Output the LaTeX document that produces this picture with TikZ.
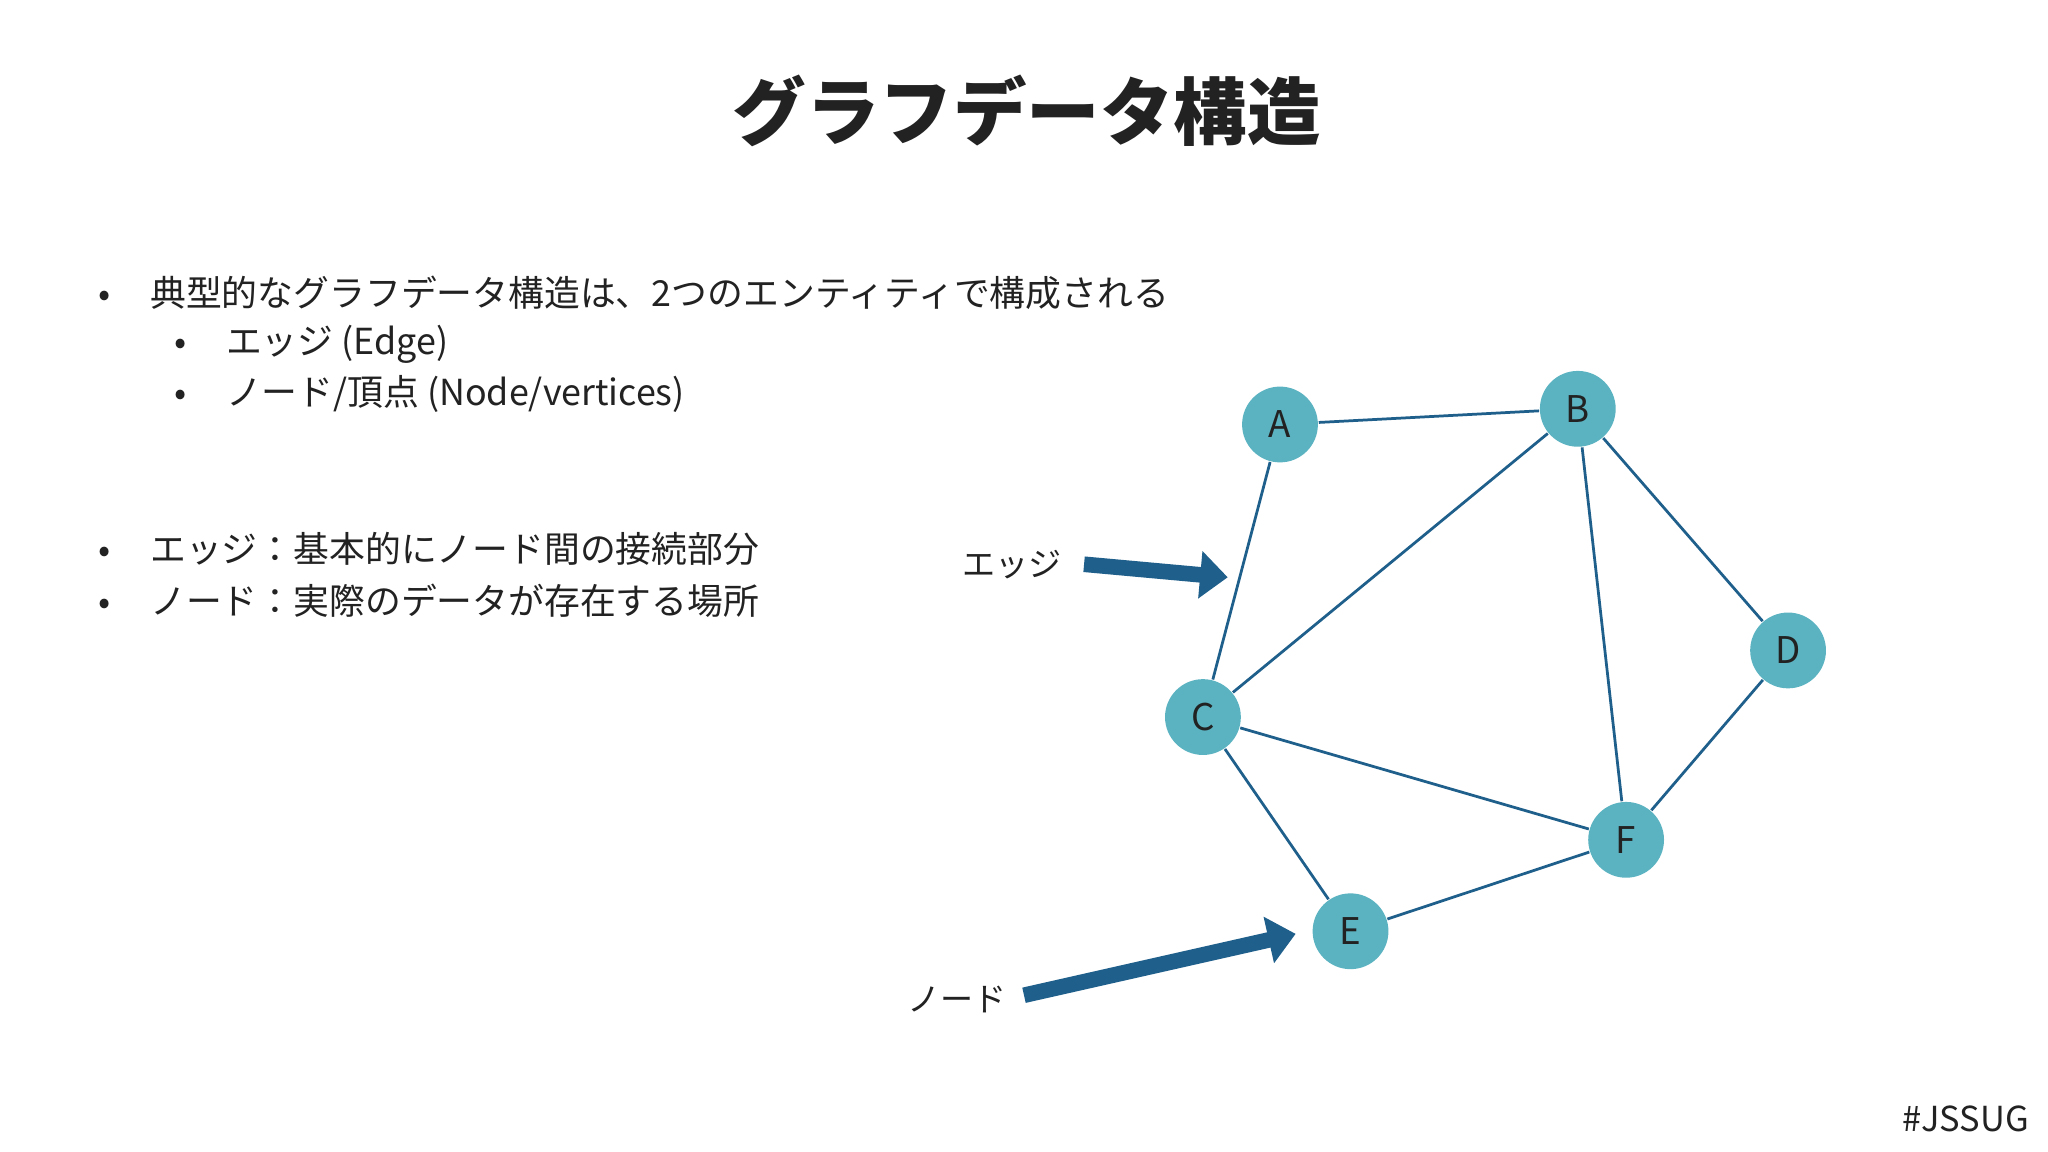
\documentclass[tikz,border=0pt]{standalone}
\usepackage{fontspec}
\setmainfont{Noto Sans CJK JP}
\usetikzlibrary{arrows.meta}
\definecolor{nodec}{HTML}{5BB3C1}
\definecolor{edgec}{HTML}{1F5F8B}
\definecolor{txt}{HTML}{222222}
\begin{document}
\begin{tikzpicture}[x=0.01cm,y=-0.01cm,
  vert/.style={circle,fill=nodec,minimum size=5.8mm,inner sep=0pt,font=\fontsize{8}{9}\selectfont,text=txt},
  edge/.style={draw=edgec,line width=0.6pt},
  bigarrow/.style={draw=edgec,line width=3.4pt,-{Triangle[length=6pt,width=10pt]}},
  body/.style={anchor=west,font=\fontsize{7.8}{10}\selectfont,text=txt,inner sep=0pt},
  lab/.style={font=\fontsize{7.2}{8}\selectfont,text=txt}]
\useasboundingbox[fill=white] (0,0) rectangle (1568,882);
\node[font=\bfseries\fontsize{16}{19}\selectfont,text=txt] (title) at (786,85) {グラフデータ構造};
\node[body] (b1) at (75,224) {•\hspace{3.0mm}典型的なグラフデータ構造は、2つのエンティティで構成される};
\node[body] (b2) at (133,264) {•\hspace{3.0mm}エッジ (Edge)};
\node[body] (b3) at (133,302) {•\hspace{3.0mm}ノード/頂点 (Node/vertices)};
\node[body] (b4) at (75,420) {•\hspace{3.0mm}エッジ：基本的にノード間の接続部分};
\node[body] (b5) at (75,460) {•\hspace{3.0mm}ノード：実際のデータが存在する場所};
\node[vert] (A) at (980,325) {A};
\node[vert] (B) at (1208,313) {B};
\node[vert] (C) at (921,549) {C};
\node[vert] (D) at (1369,498) {D};
\node[vert] (E) at (1034,713) {E};
\node[vert] (F) at (1245,643) {F};
\foreach \u/\v in {A/B,A/C,B/C,B/D,B/F,C/F,C/E,E/F,D/F} \draw[edge] (\u)--(\v);
\node[lab] (le) at (775,432) {エッジ};
\node[lab] (ln) at (733,765) {ノード};
\coordinate (e1) at (830,432); \coordinate (e2) at (940,442);
\coordinate (n1) at (784,762); \coordinate (n2) at (992,715);
\draw[bigarrow] (e1)--(e2);
\draw[bigarrow] (n1)--(n2);
\node[font=\fontsize{7.5}{9}\selectfont,text=txt] (tag) at (1505,857) {\#JSSUG};
\end{tikzpicture}
\end{document}
